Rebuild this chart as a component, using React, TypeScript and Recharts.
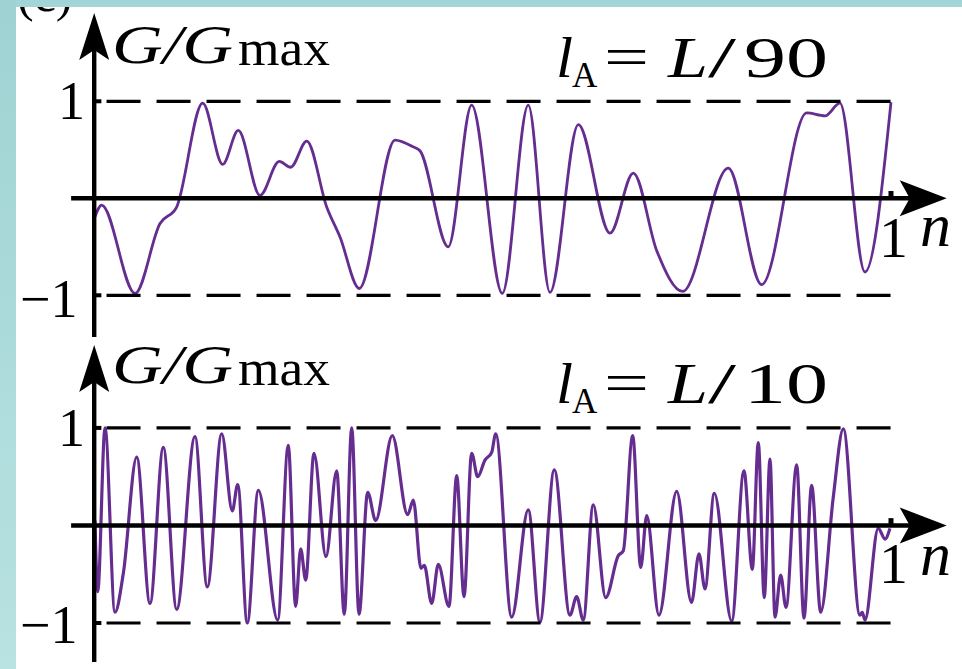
import React from 'react';
import { LineChart, Line, XAxis, YAxis, ReferenceLine, ReferenceDot } from 'recharts';

// G/Gmax against n (peaks, dips and shoulders)
const topN = [
  0, 0.0084, 0.0503, 0.0817, 0.1026, 0.1353, 0.1604, 0.18, 0.2073, 0.2315, 0.2459, 0.266,
  0.2911, 0.3078, 0.332, 0.3769, 0.3999, 0.4083, 0.4438, 0.4732, 0.5117, 0.5443, 0.5716,
  0.6072, 0.647, 0.6763, 0.7057, 0.7383, 0.7956, 0.8375, 0.8941, 0.9171, 0.9359, 0.9673, 1,
];
const topG = [
  -0.19, -0.07, -0.98, -0.26, -0.09, 0.98, 0.35, 0.7, 0.03, 0.38, 0.32, 0.59,
  -0.09, -0.4, -0.93, 0.6, 0.53, 0.49, -0.5, 0.96, -0.98, 0.96, -0.97,
  0.76, -0.36, 0.26, -0.54, -0.96, 0.31, -0.89, 0.88, 0.85, 0.98, -0.76, 0.99,
];

const bottomN = [
  0, 0.0034, 0.0126, 0.0251, 0.0356, 0.0524, 0.0691, 0.0858, 0.1026, 0.1256, 0.1411, 0.1592,
  0.1725, 0.1793, 0.1913, 0.2052, 0.2295, 0.2428, 0.2521, 0.2584, 0.2647, 0.2751, 0.2902,
  0.3036, 0.3132, 0.3225, 0.3317, 0.3426, 0.3526, 0.3735, 0.3928, 0.3999, 0.4095, 0.4137,
  0.423, 0.4313, 0.4447, 0.4544, 0.4636, 0.4732, 0.4808, 0.4899, 0.4984, 0.5034, 0.5235,
  0.5443, 0.559, 0.577, 0.5967, 0.6051, 0.6134, 0.626, 0.6416, 0.6574, 0.6637, 0.6755,
  0.6856, 0.6931, 0.7085, 0.7308, 0.7494, 0.7588, 0.7663, 0.778, 0.7999, 0.8153, 0.8258,
  0.8333, 0.8408, 0.848, 0.8543, 0.8614, 0.8681, 0.8815, 0.8907, 0.9003, 0.9117, 0.9275,
  0.9401, 0.961, 0.9639, 0.9673, 0.984, 0.9925, 0.9987,
];
const bottomG = [
  0.05, -0.68, 1.0, -0.89, -0.49, 0.7, -0.8, 0.8, -0.86, 0.91, -0.63, 0.94,
  0.15, 0.42, -1.0, 0.36, -0.97, 0.82, -0.83, -0.24, -0.56, 0.74, -0.32,
  0.56, -0.91, 1.0, -0.91, 0.34, 0.05, 0.92, 0.11, 0.26, -0.44, -0.41,
  -0.8, -0.4, -0.83, 0.51, -0.73, 0.74, 0.5, 0.67, 0.75, 0.94, -0.94,
  0.16, -0.99, 0.57, -0.92, -0.73, -0.97, 0.21, -0.74, -0.31, -0.26, 0.92,
  -0.43, 0.1, -0.92, 0.35, -0.79, -0.29, -0.65, 0.33, -0.98, 0.56, -0.45,
  0.85, -0.74, 0.68, -0.94, -0.51, -0.84, 0.62, -0.95, 0.41, -0.89, 0.29,
  0.99, -0.92, -0.89, -0.97, -0.03, -0.14, -0.03,
];

const PURPLE = '#662d91';
const X_DOMAIN: [number, number] = [-0.03, 1.07];
const FONT = '"Liberation Serif", "DejaVu Serif", serif';

const UpArrow = (props: any) => {
  const { cx, cy } = props;
  return <path d={`M${cx},${cy} L${cx + 15},${cy + 47} L${cx},${cy + 37} L${cx - 15},${cy + 47} Z`} fill="#000" />;
};

const RightArrow = (props: any) => {
  const { cx, cy } = props;
  return <path d={`M${cx},${cy} L${cx - 47},${cy - 18} L${cx - 37},${cy} L${cx - 47},${cy + 18} Z`} fill="#000" />;
};

interface PanelProps {
  n: number[];
  g: number[];
  yDomain: [number, number];
  top: number;
  height: number;
  marginTop: number;
  marginBottom: number;
  lineWidth: number;
}

const Panel: React.FC<PanelProps> = ({ n, g, yDomain, top, height, marginTop, marginBottom, lineWidth }) => {
  const data = n.map((x, i) => ({ n: x, g: g[i] }));
  const pxPerUnit = (height - marginTop - marginBottom) / (yDomain[1] - yDomain[0]);
  const axisTop = yDomain[1] - 30 / pxPerUnit;

  return (
    <div style={{ position: 'absolute', left: 0, top, width: 962, height }}>
      <LineChart
        width={962}
        height={height}
        data={data}
        margin={{ top: marginTop, bottom: marginBottom, left: 71.12, right: 15.3 }}
        style={{ overflow: 'visible' }}
      >
        <XAxis dataKey="n" type="number" domain={X_DOMAIN} allowDataOverflow hide />
        <YAxis type="number" domain={yDomain} allowDataOverflow hide />
        <Line
          type="monotone"
          dataKey="g"
          stroke={PURPLE}
          strokeWidth={lineWidth}
          dot={false}
          isAnimationActive={false}
        />
        {/* dashed bounds at +-1 */}
        <ReferenceLine segment={[{ x: 0.0145, y: 1 }, { x: 1, y: 1 }]} stroke="#000" strokeWidth={3.2} strokeDasharray="34 16" />
        <ReferenceLine segment={[{ x: 0.0145, y: -1 }, { x: 1, y: -1 }]} stroke="#000" strokeWidth={3.2} strokeDasharray="34 16" />
        {/* axes */}
        <ReferenceLine segment={[{ x: -0.03, y: 0 }, { x: 1.03, y: 0 }]} stroke="#000" strokeWidth={4.6} />
        <ReferenceLine segment={[{ x: -0.001, y: yDomain[0] }, { x: -0.001, y: axisTop }]} stroke="#000" strokeWidth={4.4} />
        <ReferenceLine segment={[{ x: 0, y: 1 }, { x: 0.008, y: 1 }]} stroke="#000" strokeWidth={4} />
        <ReferenceLine segment={[{ x: 0, y: -1 }, { x: 0.008, y: -1 }]} stroke="#000" strokeWidth={4} />
        <ReferenceLine segment={[{ x: 1, y: 0 }, { x: 1, y: 0.075 }]} stroke="#000" strokeWidth={5} />
        <ReferenceDot x={1.07} y={0} r={1} shape={RightArrow} />
        <ReferenceDot x={-0.001} y={yDomain[1]} r={1} shape={UpArrow} />
      </LineChart>
    </div>
  );
};

// the figure is a little stretched sideways, so the glyphs get textLength
const PanelLabels: React.FC<{ dyG: number; dyL: number; ratio: string }> = ({ dyG, dyL, ratio }) => (
  <g fontFamily={FONT} fill="#000">
    <text x={112} y={63 + dyG} fontSize={54} fontStyle="italic" textLength={121} lengthAdjust="spacingAndGlyphs">G/G</text>
    <text x={238} y={65 + dyG} fontSize={50} textLength={92} lengthAdjust="spacingAndGlyphs">max</text>
    <text x={556} y={77 + dyL} fontSize={56} fontStyle="italic" textLength={17} lengthAdjust="spacingAndGlyphs">l</text>
    <text x={572} y={87 + dyL} fontSize={35}>A</text>
    <text x={604} y={76 + dyL} fontSize={56} textLength={45} lengthAdjust="spacingAndGlyphs">=</text>
    <text x={668} y={77 + dyL} fontSize={56} fontStyle="italic" textLength={40} lengthAdjust="spacingAndGlyphs">L</text>
    <text x={708} y={77 + dyL} fontSize={56} textLength={28} lengthAdjust="spacingAndGlyphs">/</text>
    <text x={744} y={77 + dyL} fontSize={56} textLength={84} lengthAdjust="spacingAndGlyphs">{ratio}</text>
  </g>
);

export default function App() {
  return (
    <div style={{ position: 'absolute', left: 0, top: 0, width: 962, height: 669, background: '#fff', overflow: 'hidden' }}>
      <Panel n={topN} g={topG} yDomain={[-1.43, 1.91]} top={0} height={345} marginTop={13} marginBottom={8} lineWidth={2.8} />
      <Panel n={bottomN} g={bottomG} yDomain={[-1.4, 1.85]} top={340} height={329} marginTop={5} marginBottom={7} lineWidth={3.2} />
      <svg width={962} height={669} style={{ position: 'absolute', left: 0, top: 0, pointerEvents: 'none' }}>
        <defs>
          <linearGradient id="edge" x1="0" y1="0" x2="0" y2="1">
            <stop offset="0%" stopColor="#9fd3d3" />
            <stop offset="100%" stopColor="#b9e2e2" />
          </linearGradient>
        </defs>
        <text x={17} y={11} fontFamily={FONT} fontSize={50}>(c)</text>
        <PanelLabels dyG={0} dyL={0} ratio="90" />
        <PanelLabels dyG={320} dyL={326} ratio="10" />
        <g fontFamily={FONT} fill="#000">
          <text x={58} y={119} fontSize={54}>1</text>
          <text x={20} y={317} fontSize={54}>−1</text>
          <text x={58} y={446} fontSize={54}>1</text>
          <text x={20} y={643} fontSize={54}>−1</text>
          <text x={879} y={257} fontSize={58}>1</text>
          <text x={920} y={246} fontSize={62} fontStyle="italic">n</text>
          <text x={879} y={583} fontSize={58}>1</text>
          <text x={920} y={575} fontSize={62} fontStyle="italic">n</text>
        </g>
        <rect x={0} y={0} width={962} height={7} fill="#a2d5d5" />
        <rect x={0} y={0} width={16} height={669} fill="url(#edge)" />
      </svg>
    </div>
  );
}
